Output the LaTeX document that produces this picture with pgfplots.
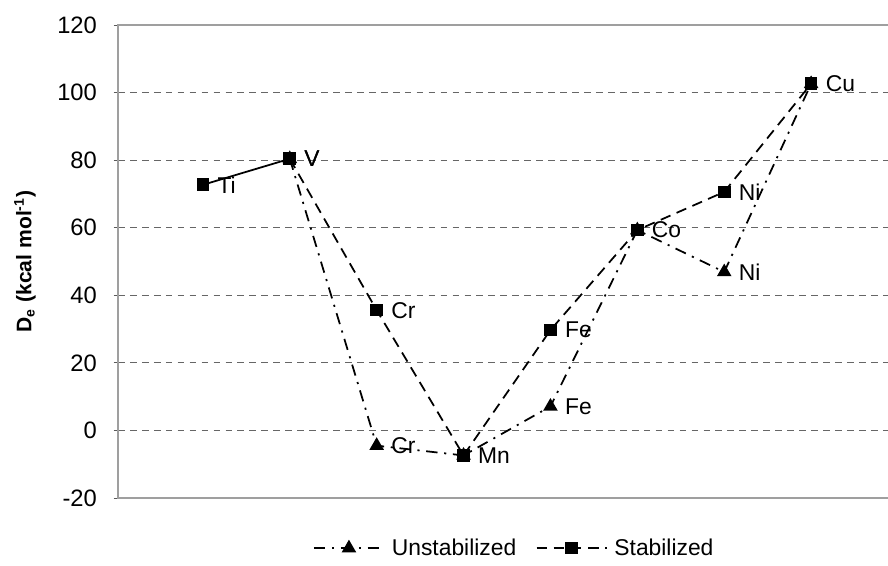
\documentclass[border=0pt]{standalone}
\usepackage{fontspec}
\setmainfont{Liberation Sans}
\usepackage{pgfplots}
\usepackage{pgfplotstable}
\pgfplotsset{compat=1.18}

% Dissociation energies, kcal/mol (0 = Ti ... 7 = Cu)
\pgfplotstableread{
x  y     lbl
0  72.7  Ti
1  80.4  V
}\tiv
\pgfplotstableread{
x  y     lbl
1  80.4  {}
2  -4.5  Cr
3  -7.4  {}
4   7.1  Fe
5  59.3  {}
6  46.9  Ni
7  102.6 {}
}\unstab
\pgfplotstableread{
x  y     lbl
1  80.4  V
2  35.6  Cr
3  -7.4  Mn
4  29.7  Fe
5  59.3  Co
6  70.6  Ni
7  102.6 Cu
}\stab

\begin{document}
\begin{tikzpicture}
\useasboundingbox (-2.36cm,-1.34cm) rectangle (15.4cm,9.96cm);
\begin{axis}[
  at={(0,0)}, anchor=south west,
  scale only axis,
  width=15.6cm, height=9.46cm,
  xmin=-0.977, xmax=8,
  ymin=-20, ymax=120,
  xtick=\empty,
  ytick={-20,0,...,120},
  tick align=outside,
  major tick length=2.5pt,
  ytick pos=left,
  tick style={gray!70!black, line width=0.5pt},
  axis line style={gray!75, line width=0.9pt},
  ymajorgrids,
  major grid style={gray!80!black, line width=0.5pt, dash pattern=on 3.8pt off 3pt},
  /pgf/number format/assume math mode=true,
  tick label style={font=\fontsize{13.5}{16}\selectfont},
  yticklabel style={xshift=-6pt},
  ylabel={D\textsubscript{e} (kcal mol\textsuperscript{-1})},
  ylabel style={at={(axis description cs:-0.1192,0.5)}, anchor=center,
    font=\bfseries\fontsize{12}{14}\selectfont},
  legend columns=2,
  legend style={draw=none, fill=none, at={(rel axis cs:0.509,-0.106)}, anchor=center,
    font=\fontsize{13}{15}\selectfont,
    /tikz/every odd column/.append style={column sep=2pt},
    /tikz/every even column/.append style={column sep=9pt}},
  legend image code/.code={%
    \draw[mark repeat=2, mark phase=2] plot coordinates {(0cm,0cm) (0.7cm,0cm) (1.4cm,0cm)};},
  point meta=explicit symbolic,
  nodes near coords,
  nodes near coords align={anchor=west},
  every node near coord/.append style={font=\fontsize{13}{15}\selectfont, xshift=4.5pt, text=black},
]
\addplot[black, line width=1pt, dash pattern=on 6.5pt off 3.8pt on 1.2pt off 3.8pt,
  mark=triangle*, mark size=3.8pt, mark options={solid}]
  table[x=x, y=y, meta=lbl] {\unstab};
\addlegendentry{Unstabilized}
\addplot[black, line width=1pt, dash pattern=on 6pt off 3.8pt,
  mark=square*, mark size=3.1pt, mark options={solid}]
  table[x=x, y=y, meta=lbl] {\stab};
\addlegendentry{Stabilized}
\addplot[black, line width=1pt, solid, mark=square*, mark size=3.1pt, forget plot]
  table[x=x, y=y, meta=lbl] {\tiv};
\end{axis}
\end{tikzpicture}
\end{document}
